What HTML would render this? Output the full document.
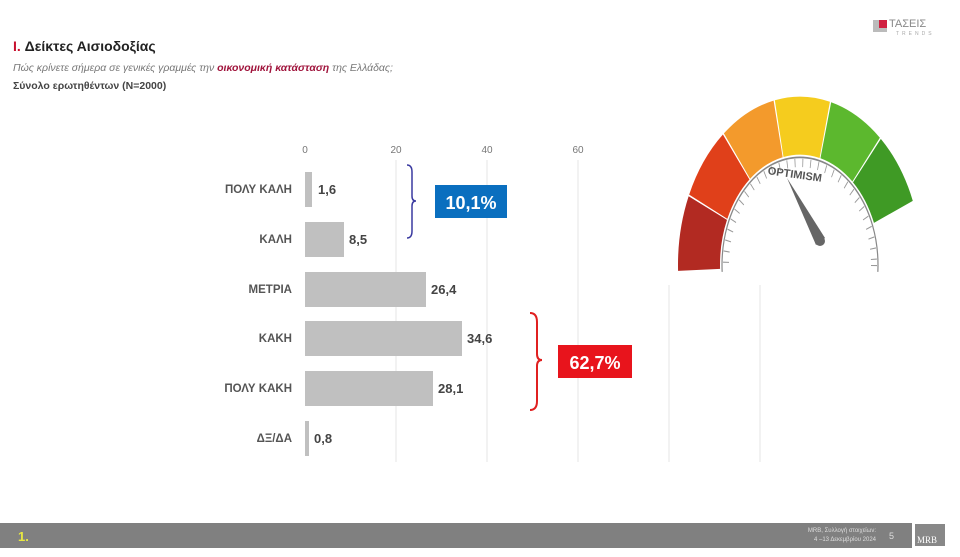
<!DOCTYPE html>
<html><head><meta charset="utf-8"><style>
body{margin:0;width:960px;height:557px;background:#fff;overflow:hidden;position:relative;font-family:"Liberation Sans","DejaVu Sans",sans-serif}
.a{position:absolute}
</style></head><body>
<div class="a" style="left:13px;top:38px;font-size:14px;font-weight:bold;color:#222"><span style="color:#c8102e">I.</span> Δείκτες Αισιοδοξίας</div>
<div class="a" style="left:13px;top:62px;font-size:10.5px;font-style:italic;color:#777">Πώς κρίνετε σήμερα σε γενικές γραμμές την <b style="color:#a0143c">οικονομική κατάσταση</b> της Ελλάδας;</div>
<div class="a" style="left:13px;top:80px;font-size:10.5px;font-weight:bold;color:#444">Σύνολο ερωτηθέντων (N=2000)</div>
<div class="a" style="left:873px;top:20px;width:14px;height:12px;background:#bbb"></div>
<div class="a" style="left:879px;top:20px;width:8px;height:8px;background:#d02040"></div>
<div class="a" style="left:889px;top:18px;font-size:11px;color:#888">ΤΑΣΕΙΣ</div>
<div class="a" style="left:896px;top:31px;font-size:5px;letter-spacing:3px;color:#aaa">TRENDS</div>

<svg class="a" style="left:0;top:0" width="960" height="557">
<defs><clipPath id="c"><rect x="-200" y="-200" width="400" height="205"/></clipPath></defs>
<g stroke="#e6e6e6" stroke-width="1">
<line x1="396" y1="160" x2="396" y2="462"/><line x1="487" y1="160" x2="487" y2="462"/><line x1="578" y1="160" x2="578" y2="462"/><line x1="669" y1="285" x2="669" y2="462"/><line x1="760" y1="285" x2="760" y2="462"/>
</g>
<g font-size="10" fill="#777" text-anchor="middle"><text x="305" y="153">0</text><text x="396" y="153">20</text><text x="487" y="153">40</text><text x="578" y="153">60</text></g>
<g fill="#c0c0c0">
<rect x="305" y="172" width="7" height="35"/><rect x="305" y="222" width="39" height="35"/><rect x="305" y="272" width="121" height="35"/><rect x="305" y="321" width="157" height="35"/><rect x="305" y="371" width="128" height="35"/><rect x="305" y="421" width="4" height="35"/>
</g>
<g font-size="11.5" font-weight="bold" fill="#555" text-anchor="end">
<text x="292" y="193">ΠΟΛΥ ΚΑΛΗ</text><text x="292" y="243">ΚΑΛΗ</text><text x="292" y="293">ΜΕΤΡΙΑ</text><text x="292" y="342">ΚΑΚΗ</text><text x="292" y="392">ΠΟΛΥ ΚΑΚΗ</text><text x="292" y="442">ΔΞ/ΔΑ</text>
</g>
<g font-size="13" font-weight="bold" fill="#444">
<text x="318" y="194">1,6</text><text x="349" y="244">8,5</text><text x="431" y="294">26,4</text><text x="467" y="343">34,6</text><text x="438" y="393">28,1</text><text x="314" y="443">0,8</text>
</g>
<path d="M407,165 Q412,165 412,172 L412,196 Q412,201 416,201 Q412,201 412,206 L412,231 Q412,238 407,238" fill="none" stroke="#3a3aa0" stroke-width="1.5"/>
<path d="M530,313 Q537,313 537,322 L537,354 Q537,360 542,360 Q537,360 537,366 L537,401 Q537,410 530,410" fill="none" stroke="#e02020" stroke-width="2"/>
<rect x="435" y="185" width="72" height="33" fill="#0a6fbf"/>
<text x="471" y="209" font-size="18" font-weight="bold" fill="#fff" text-anchor="middle">10,1%</text>
<rect x="558" y="345" width="74" height="33" fill="#e8141c"/>
<text x="595" y="369" font-size="18" font-weight="bold" fill="#fff" text-anchor="middle">62,7%</text>

<g transform="translate(800,265) scale(1,1.38)">
<g fill="none" stroke-width="42">
<circle r="101" stroke="#b22a22" stroke-dasharray="46 600" transform="rotate(-182)"/>
<circle r="101" stroke="#e0401a" stroke-dasharray="46 600" transform="rotate(-155.3)"/>
<circle r="101" stroke="#f39a2c" stroke-dasharray="46 600" transform="rotate(-128.6)"/>
<circle r="101" stroke="#f5cc1e" stroke-dasharray="46 600" transform="rotate(-101.9)"/>
<circle r="101" stroke="#5cb82e" stroke-dasharray="46 600" transform="rotate(-75.2)"/>
<circle r="101" stroke="#3f9a25" stroke-dasharray="46 600" transform="rotate(-48.5)"/>
</g>
<g clip-path="url(#c)">
<circle r="78" fill="none" stroke="#888" stroke-width="1.2"/>
<circle r="74" fill="none" stroke="#999" stroke-width="6" stroke-dasharray="0.8 7"/>
</g>
</g>
<polygon points="787,178 825,238 816,245" fill="#666"/>
<circle cx="820" cy="241" r="5" fill="#666"/>
<text x="768" y="178" font-size="11" font-weight="bold" fill="#555" transform="rotate(8 795 172)">OPTIMISM</text>

<rect x="0" y="523" width="912" height="25" fill="#808080"/>
<text x="18" y="541" font-size="13" font-weight="bold" fill="#e8e840">1.</text>
<text x="876" y="532" font-size="6" fill="#ddd" text-anchor="end">MRB, Συλλογή στοιχείων:</text>
<text x="876" y="541" font-size="6" fill="#ddd" text-anchor="end">4 –13 Δεκεμβρίου 2024</text>
<text x="889" y="539" font-size="9" fill="#ddd">5</text>
<rect x="915" y="524" width="30" height="22" fill="#888"/>
<text x="917" y="543" font-size="9" font-family="Liberation Serif" fill="#fff">MRB</text>
</svg>
</body></html>
